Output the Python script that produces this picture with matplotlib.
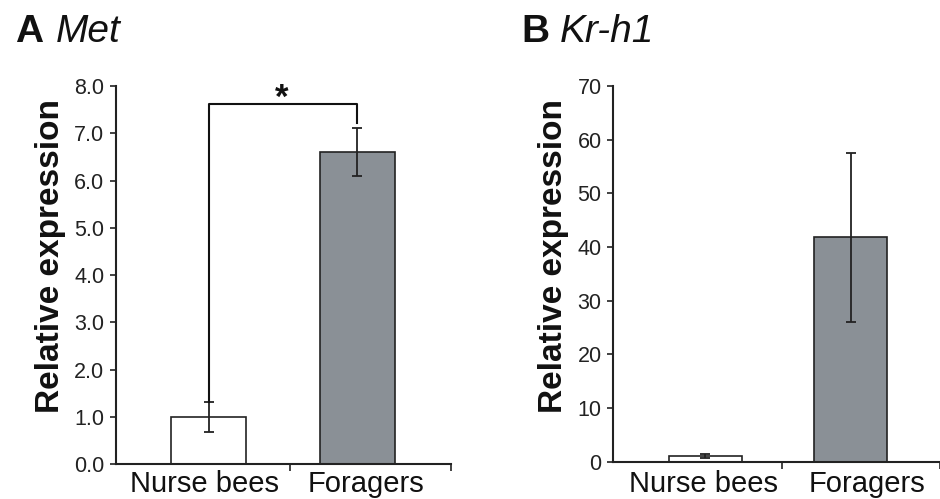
import matplotlib
matplotlib.use("Agg")
import matplotlib.pyplot as plt
import numpy as np

plt.rcParams['font.family'] = ['Liberation Sans', 'DejaVu Sans']

groups = ["Nurse bees", "Foragers"]
met_mean = [1.0, 6.6]
met_err = [0.32, 0.51]
krh1_mean = [1.0, 41.8]
krh1_err = [0.35, 15.7]
met_ticks = [0, 1, 2, 3, 4, 5, 6, 7, 8]
krh1_ticks = [0, 10, 20, 30, 40, 50, 60, 70]
bar_colors = ["white", "#8a9096"]

fig = plt.figure(figsize=(9.4, 4.99), dpi=100)
axA = fig.add_axes([0.1234, 0.0701, 0.3564, 0.7575])
axB = fig.add_axes([0.6525, 0.0747, 0.3475, 0.7530])

txt = "#222222"


def panel(ax, means, errs, ticks, fmt, xlim, sep, label_shift, pad):
    x = np.arange(len(groups))
    ax.bar(x, means, width=0.5, color=bar_colors, edgecolor="#222222",
           linewidth=1.2, zorder=2)
    ax.errorbar(x, means, yerr=errs, fmt="none", ecolor="#222222",
                elinewidth=1.3, capsize=3.5, capthick=1.3, zorder=3)
    ax.set_xlim(*xlim)
    ax.set_ylim(ticks[0], ticks[-1])
    ax.set_yticks(ticks)
    ax.set_yticklabels([fmt.format(t) for t in ticks])
    ax.set_xticks(x + np.array(label_shift))
    ax.set_xticklabels(groups)
    ax.set_xticks([sep, xlim[1]], minor=True)
    ax.tick_params(axis="x", which="major", length=0, pad=pad,
                   labelsize=21, labelcolor="#111111")
    ax.tick_params(axis="x", which="minor", length=5, width=1.2,
                   direction="out", color="#222222")
    ax.tick_params(axis="y", length=4.5, width=1.2, pad=4,
                   labelsize=15.5, labelcolor=txt, color="#222222")
    for s in ["top", "right"]:
        ax.spines[s].set_visible(False)
    for s in ["left", "bottom"]:
        ax.spines[s].set_linewidth(1.5)
        ax.spines[s].set_color("#222222")
    ax.set_ylabel("Relative expression", fontsize=24, fontweight="bold",
                  color="#111111")


panel(axA, met_mean, met_err, met_ticks, "{:.1f}", (-0.621, 1.628), 0.547,
      [-0.03, 0.06], 4)
panel(axB, krh1_mean, krh1_err, krh1_ticks, "{:d}", (-0.634, 1.614), 0.524,
      [-0.015, 0.11], 6)
axA.yaxis.set_label_coords(-0.150, 0.55)
axB.yaxis.set_label_coords(-0.137, 0.547)

# significance bracket (panel A)
bracket_y = 7.61
left_foot = met_mean[0] + met_err[0]
right_foot = met_mean[1] + met_err[1] + 0.1
axA.plot([0, 0, 1, 1], [left_foot, bracket_y, bracket_y, right_foot],
         color="#111111", lw=1.5, clip_on=False, zorder=4)
axA.text(0.49, bracket_y - 0.08, "*", ha="center", va="baseline",
         fontsize=25, fontweight="bold", color="#111111")

# panel titles
fig.text(15 / 940, 1 - 42 / 499, "A", fontsize=28, fontweight="bold",
         color="#111111", va="baseline")
fig.text(56 / 940, 1 - 42 / 499, "Met", fontsize=28, fontstyle="italic",
         color="#111111", va="baseline")
fig.text(521 / 940, 1 - 42 / 499, "B", fontsize=28, fontweight="bold",
         color="#111111", va="baseline")
fig.text(560 / 940, 1 - 42 / 499, "Kr-h1", fontsize=28, fontstyle="italic",
         color="#111111", va="baseline")

fig.savefig("out.png", dpi=100)
